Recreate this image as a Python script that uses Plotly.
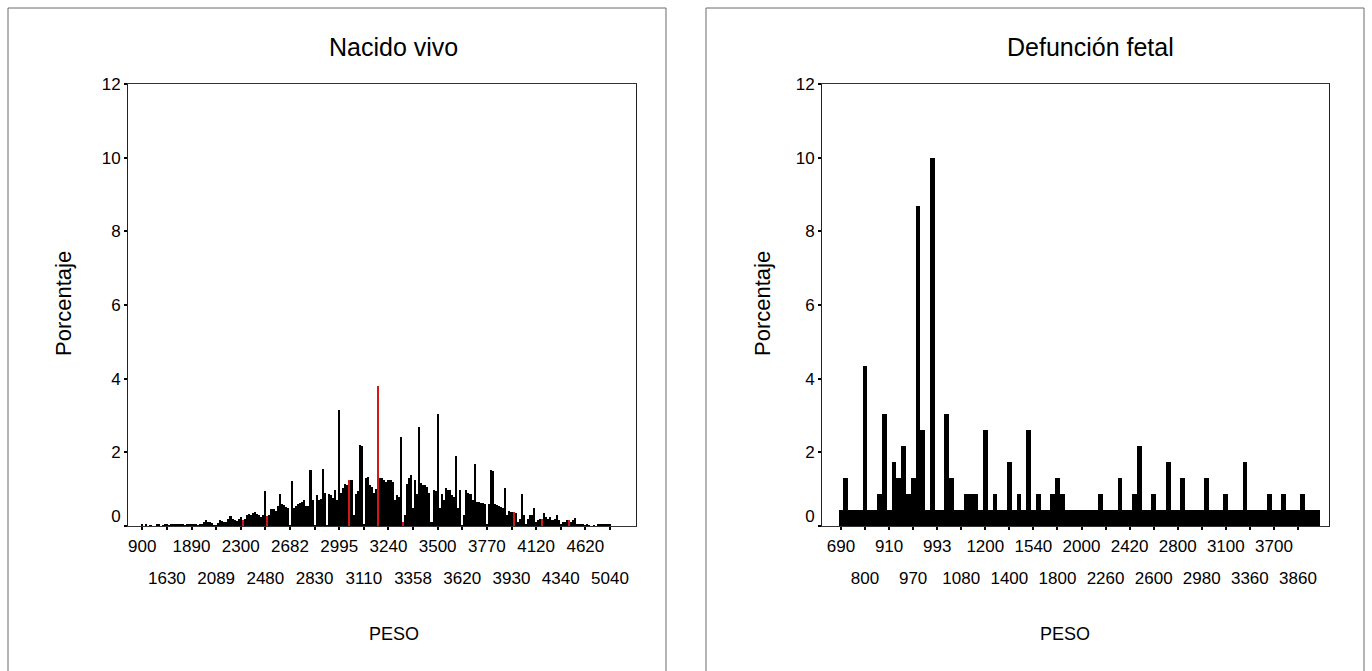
import plotly.graph_objects as go

W, H = 1372, 671

# ---------------- Data: "Nacido vivo" (percent per PESO category) ----------------
nv_tick_labels = ["900", "1630", "1890", "2089", "2300", "2480", "2682", "2830", "2995", "3110",
                  "3240", "3358", "3500", "3620", "3770", "3930", "4120", "4340", "4620", "5040"]
nv_pct = [
    0.03, 0, 0.04, 0, 0.02, 0, 0, 0.04, 0.03, 0, 0.02, 0.04,
    0.03, 0.02, 0.04, 0.04, 0.04, 0.03, 0.04, 0.04, 0.03, 0.02, 0.03, 0.03,
    0.03, 0.04, 0.03, 0.02, 0.05, 0.06, 0.1, 0.15, 0.12, 0.1, 0.08, 0.02,
    0.02, 0.08, 0.15, 0.14, 0.1, 0.1, 0.18, 0.26, 0.18, 0.15, 0.14, 0.2,
    0.25, 0.15, 0.2, 0.3, 0.33, 0.3, 0.35, 0.38, 0.33, 0.3, 0.25, 0.3,
    0.95, 0.28, 0.3, 0.45, 0.47, 0.4, 0.55, 0.88, 0.6, 0.56, 0.52, 0.5,
    0.02, 1.22, 0.5, 0.55, 0.59, 0.62, 0.65, 0.7, 0.55, 0.53, 1.53, 0.7,
    0.02, 0.83, 0.7, 0.72, 1.56, 0.9, 0.02, 0.88, 0.85, 0.75, 0.97, 0.7,
    3.16, 0.9, 1.04, 1.15, 1.1, 1.26, 1.25, 0.3, 0.88, 0.95, 2.2, 2.18,
    0.05, 1.31, 1.33, 1.1, 1.06, 0.9, 1.0, 3.8, 1.31, 1.3, 1.25, 1.2,
    1.24, 1.25, 1.2, 0.7, 0.83, 0.8, 2.42, 0.1, 0.3, 1.15, 1.29, 1.38,
    0.5, 1.24, 0.88, 2.69, 1.17, 1.12, 1.1, 1.06, 0.9, 0.1, 0.97, 0.95,
    3.03, 0.5, 0.88, 0.7, 1.04, 0.97, 0.97, 0.83, 0.8, 1.91, 0.5, 0.97,
    0.02, 0.3, 0.97, 0.9, 0.88, 0.7, 1.69, 0.65, 0.65, 0.63, 0.62, 0.6,
    0.05, 0.6, 1.53, 1.48, 0.59, 0.57, 0.55, 0.52, 0.5, 1.04, 0.3, 0.4,
    0.38, 0.38, 0.35, 0.1, 0.2, 0.86, 0.3, 0.05, 0.2, 0.3, 0.3, 0.49,
    0.1, 0.15, 0.2, 0.2, 0.35, 0.25, 0.2, 0.25, 0.15, 0.2, 0.31, 0.15,
    0.05, 0.1, 0.12, 0.15, 0.15, 0.12, 0.15, 0.22, 0.05, 0.04, 0.05, 0.03,
    0.02, 0.03, 0.02, 0, 0.02, 0, 0.03, 0.04, 0.04, 0.04, 0.03, 0.03,
    0.03,
]
nv_red_bars = [49, 61, 101, 115, 127, 181, 195, 208]
NV_STEP = 12  # categories between consecutive tick labels

# ---------------- Data: "Defunción fetal" (percent per PESO category) -------------
df_tick_labels = ["690", "800", "910", "970", "993", "1080", "1200", "1400", "1540", "1800",
                  "2000", "2260", "2420", "2600", "2800", "2980", "3100", "3360", "3700", "3860"]
df_pct = [
    0.43, 1.30, 0.43, 0.43, 0.43, 4.35, 0.43, 0.43, 0.87, 3.04,
    0.43, 1.74, 1.30, 2.17, 0.87, 1.30, 8.70, 2.61, 0.43, 10.0,
    0.43, 0.43, 3.04, 1.30, 0.43, 0.43, 0.87, 0.87, 0.87, 0.43,
    2.61, 0.43, 0.87, 0.43, 0.43, 1.74, 0.43, 0.87, 0.43, 2.61,
    0.43, 0.87, 0.43, 0.43, 0.87, 1.30, 0.87, 0.43, 0.43, 0.43,
    0.43, 0.43, 0.43, 0.43, 0.87, 0.43, 0.43, 0.43, 1.30, 0.43,
    0.43, 0.87, 2.17, 0.43, 0.43, 0.87, 0.43, 0.43, 1.74, 0.43,
    0.43, 1.30, 0.43, 0.43, 0.43, 0.43, 1.30, 0.43, 0.43, 0.43,
    0.87, 0.43, 0.43, 0.43, 1.74, 0.43, 0.43, 0.43, 0.43, 0.87,
    0.43, 0.43, 0.87, 0.43, 0.43, 0.43, 0.87, 0.43, 0.43, 0.43,
]
DF_STEP = 5

y_ticks = [0, 2, 4, 6, 8, 10, 12]

# ---------------- Figure ----------------
FONT = "Liberation Sans, Arial, sans-serif"
tickfont = dict(family=FONT, size=17, color="black")

nv_x = list(range(len(nv_pct)))
df_x = list(range(len(df_pct)))
nv_colors = ["#d01818" if i in nv_red_bars else "black" for i in nv_x]

nv_tickpos = [i * NV_STEP for i in range(len(nv_tick_labels))]
df_tickpos = [i * DF_STEP for i in range(len(df_tick_labels))]

fig = go.Figure()
fig.add_trace(go.Bar(x=nv_x, y=nv_pct, marker=dict(color=nv_colors, line=dict(width=0)),
                     xaxis="x", yaxis="y", showlegend=False, hoverinfo="x+y"))
fig.add_trace(go.Bar(x=df_x, y=df_pct, marker=dict(color="black", line=dict(width=0)),
                     xaxis="x2", yaxis="y2", showlegend=False, hoverinfo="x+y"))
# empty traces so overlay axes (second row of labels, "0" label) exist
for xa, ya in [("x3", "y"), ("x", "y3"), ("x4", "y2"), ("x2", "y4")]:
    fig.add_trace(go.Scatter(x=[], y=[], xaxis=xa, yaxis=ya, showlegend=False))

ydom = [1 - 526 / H, 1 - 84 / H]
nv_range = [-6.97, 240.7]
df_range = [-3.95, 101.45]

common_x = dict(ticks="outside", ticklen=3, tickwidth=2, tickcolor="black",
                showgrid=False, zeroline=False, tickfont=tickfont, tickmode="array",
                fixedrange=True, automargin=False)
common_y = dict(range=[0, 12], ticks="outside", ticklen=3, tickwidth=2, tickcolor="black",
                showgrid=False, zeroline=False, tickfont=tickfont, tickmode="array",
                fixedrange=True, automargin=False)

fig.update_layout(
    width=W, height=H, margin=dict(l=0, r=0, t=0, b=0, pad=0), autosize=False,
    paper_bgcolor="white", plot_bgcolor="white", bargap=0, barmode="overlay",
    showlegend=False,
    xaxis=dict(domain=[128 / W, 636 / W], range=nv_range, anchor="y",
               tickvals=nv_tickpos[0::2], ticktext=nv_tick_labels[0::2],
               ticklabelstandoff=2,
               showline=True, linecolor="#333", linewidth=1, mirror=True, **common_x),
    xaxis3=dict(overlaying="x", anchor="y", range=nv_range, side="bottom",
                tickvals=nv_tickpos[1::2], ticktext=nv_tick_labels[1::2],
                ticklabelstandoff=34, showline=False, **common_x),
    xaxis2=dict(domain=[822 / W, 1329 / W], range=df_range, anchor="y2",
                tickvals=df_tickpos[0::2], ticktext=df_tick_labels[0::2],
                ticklabelstandoff=2,
                showline=True, linecolor="#333", linewidth=1, mirror=True, **common_x),
    xaxis4=dict(overlaying="x2", anchor="y2", range=df_range, side="bottom",
                tickvals=df_tickpos[1::2], ticktext=df_tick_labels[1::2],
                ticklabelstandoff=34, showline=False, **common_x),
    yaxis=dict(domain=ydom, anchor="x", tickvals=y_ticks,
               ticktext=[""] + [str(v) for v in y_ticks[1:]],
               showline=True, linecolor="#222", linewidth=1, mirror=True, **common_y),
    yaxis3=dict(overlaying="y", anchor="x", side="left", tickvals=[0], ticktext=["0"],
                ticklabelshift=-10, showline=False, **common_y),
    yaxis2=dict(domain=ydom, anchor="x2", tickvals=y_ticks,
                ticktext=[""] + [str(v) for v in y_ticks[1:]],
                showline=True, linecolor="#222", linewidth=1, mirror=True, **common_y),
    yaxis4=dict(overlaying="y2", anchor="x2", side="left", tickvals=[0], ticktext=["0"],
                ticklabelshift=-10, showline=False, **common_y),
)

# panel borders
for x0, x1 in [(8, 666), (706, 1364)]:
    fig.add_shape(type="rect", xref="paper", yref="paper",
                  x0=x0 / W, x1=x1 / W, y0=-0.02, y1=1 - 8 / H,
                  line=dict(color="#6a6a6a", width=1), fillcolor="rgba(0,0,0,0)", layer="below")

# titles and axis titles
texts = [
    ("Nacido vivo", 394, 47, 25, 0),
    ("Defunción fetal", 1090, 47, 25, 0),
    ("Porcentaje", 63, 304, 22, -90),
    ("Porcentaje", 762, 304, 22, -90),
    ("PESO", 394, 634, 18, 0),
    ("PESO", 1065, 634, 18, 0),
]
for t, px, py, sz, ang in texts:
    fig.add_annotation(text=t, x=px / W, y=1 - py / H, xref="paper", yref="paper",
                       showarrow=False, textangle=ang, xanchor="center", yanchor="middle",
                       font=dict(family=FONT, size=sz, color="black"))

fig.write_html("out.html")
